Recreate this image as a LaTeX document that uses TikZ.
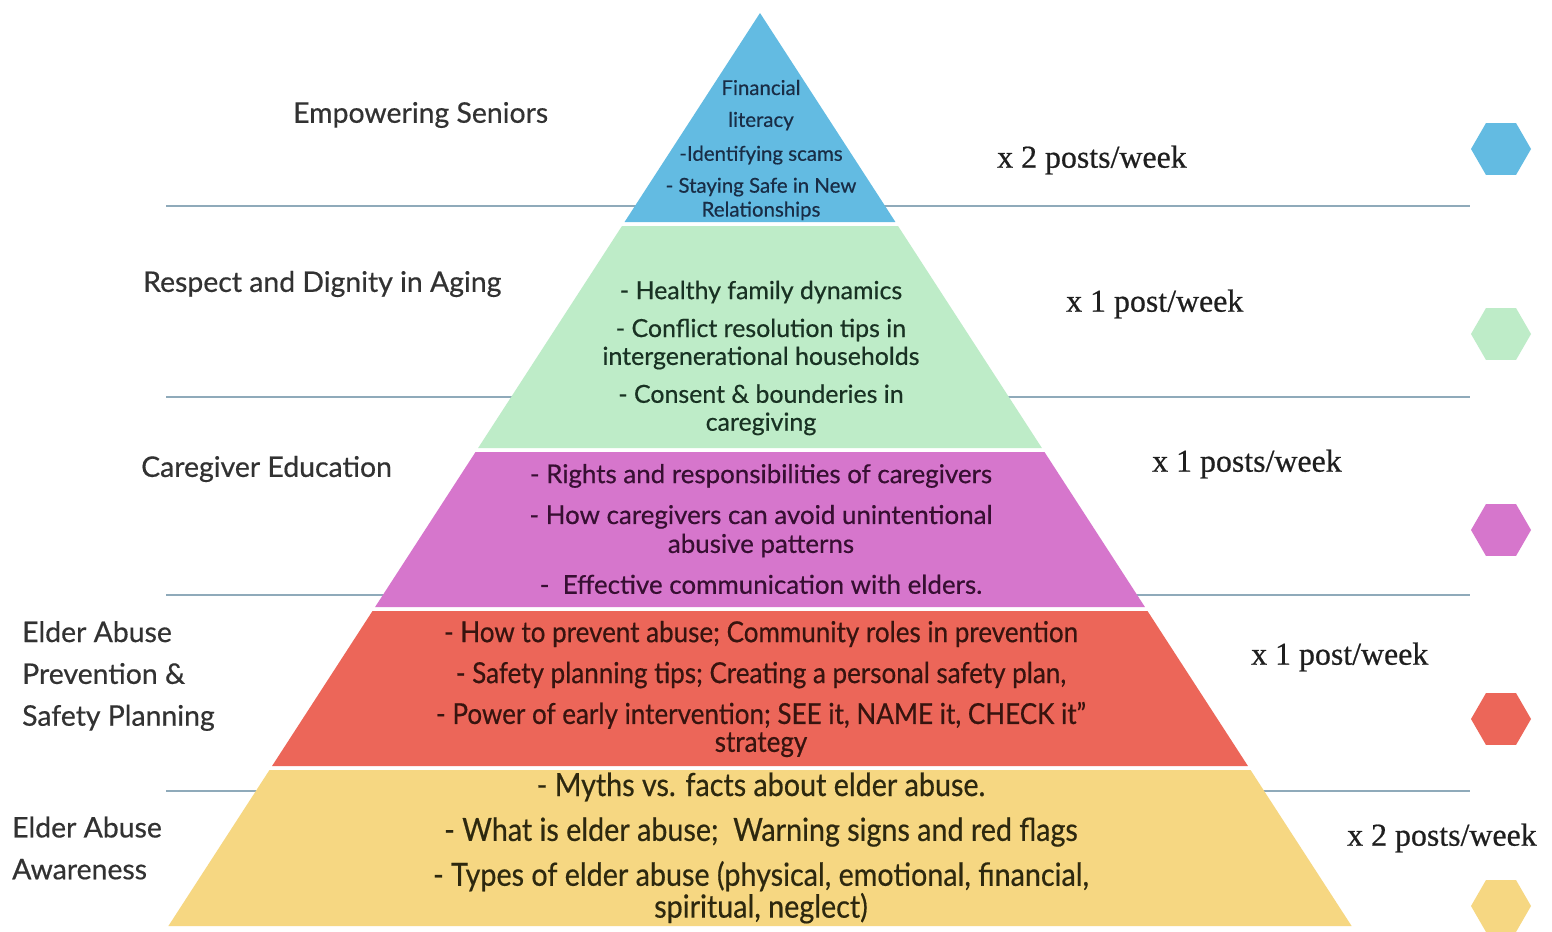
\documentclass[tikz,border=0pt]{standalone}
\usepackage{fontspec}
\setmainfont{Lato}[FakeBold=0.5]
\newfontfamily\postfont{Liberation Serif}[FakeBold=0.6]
\newfontfamily\narrowfont{Lato}[FakeStretch=0.9, FakeBold=0.5]
\usetikzlibrary{shapes.geometric}

\definecolor{seniorblue}{RGB}{99,187,226}
\definecolor{dignitygreen}{RGB}{190,236,200}
\definecolor{caremagenta}{RGB}{214,118,204}
\definecolor{safetyred}{RGB}{236,102,89}
\definecolor{awareyellow}{RGB}{246,215,130}
\definecolor{rulegrey}{RGB}{143,170,186}
\definecolor{labelgrey}{RGB}{50,50,50}
\definecolor{bluetext}{RGB}{25,45,70}
\definecolor{greentext}{RGB}{25,50,35}
\definecolor{magentatext}{RGB}{55,15,50}
\definecolor{redtext}{RGB}{55,20,15}
\definecolor{yellowtext}{RGB}{45,40,15}

\tikzset{
  levellabel/.style={font=\fontsize{28.5}{42}\selectfont, text=labelgrey, inner sep=0pt},
  postlabel/.style={font=\postfont\fontsize{32}{36}\selectfont, text=black!88, anchor=west, inner sep=0pt},
  topiclist/.style={align=center, inner sep=0pt},
  hexmark/.style={regular polygon, regular polygon sides=6, minimum size=60bp, inner sep=0pt, draw=none},
  sepline/.style={draw=rulegrey, line width=2.5bp}
}

\begin{document}
\begin{tikzpicture}[x=1bp, y=-1bp]
  \useasboundingbox (0,0) rectangle (1552,931);
  \clip (0,0) rectangle (1552,931);
  \fill[white] (0,0) rectangle (1552,931);

  % separator lines behind the pyramid
  \foreach \yline in {206,397,595,791}
    \draw[sepline] (166,\yline) -- (1470,\yline);

  % pyramid layers
  \foreach \ytop/\ybot/\col in {13/222/seniorblue, 226/448/dignitygreen, 452/607/caremagenta, 611/766/safetyred, 770/926/awareyellow}
    \fill[\col] ({760-0.648*(\ytop-13)},\ytop) -- ({760+0.648*(\ytop-13)},\ytop)
      -- ({760+0.648*(\ybot-13)},\ybot) -- ({760-0.648*(\ybot-13)},\ybot) -- cycle;

  % topics inside the layers
  \node[topiclist, font=\fontsize{20.5}{24}\selectfont, text=bluetext] (seniortopics) at (761,150)
    {Financial\\[8bp] literacy\\[10bp] -Identifying scams\\[8bp] - Staying Safe in New\\ Relationships};
  \node[topiclist, font=\fontsize{25}{28}\selectfont, text=greentext] (dignitytopics) at (761,358)
    {- Healthy family dynamics\\[10bp] - Conflict resolution tips in\\ intergenerational households\\[10bp]
     - Consent \& bounderies in\\ caregiving};
  \node[topiclist, font=\fontsize{26}{29}\selectfont, text=magentatext] (caretopics) at (761,529)
    {- Rights and responsibilities of caregivers\\[12bp] - How caregivers can avoid unintentional\\ abusive patterns\\[12bp]
     - \ Effective communication with elders.};
  \node[topiclist, font=\narrowfont\fontsize{29}{28}\selectfont, text=redtext] (safetytopics) at (761,689)
    {- How to prevent abuse; Community roles in prevention\\[13bp] - Safety planning tips; Creating a personal safety plan,\\[13bp]
     - Power of early intervention; SEE it, NAME it, CHECK it”\\ strategy};
  \node[topiclist, font=\narrowfont\fontsize{32}{32}\selectfont, text=yellowtext] (awaretopics) at (761,848)
    {- Myths vs. facts about elder abuse.\\[13bp] - What is elder abuse; \ Warning signs and red flags\\[13bp]
     - Types of elder abuse (physical, emotional, financial,\\ spiritual, neglect)};

  % level names on the left
  \node[levellabel, anchor=west] (seniors) at (293,115) {Empowering Seniors};
  \node[levellabel, anchor=west] (dignity) at (143,284) {Respect and Dignity in Aging};
  \node[levellabel, anchor=west] (caregiver) at (141,469) {Caregiver Education};
  \node[levellabel, anchor=west, align=left] (prevention) at (22,676) {Elder Abuse\\ Prevention \&\\ Safety Planning};
  \node[levellabel, anchor=west, align=left] (awareness) at (12,848) {Elder Abuse\\ Awareness};

  % posting frequency on the right
  \node[postlabel] (freqseniors) at (997,160) {x 2 posts/week};
  \node[postlabel] (freqdignity) at (1066,304) {x 1 post/week};
  \node[postlabel] (freqcaregiver) at (1152,464) {x 1 posts/week};
  \node[postlabel] (freqprevention) at (1251,657) {x 1 post/week};
  \node[postlabel] (freqawareness) at (1347,838) {x 2 posts/week};

  % colour keys
  \node[hexmark, fill=seniorblue] (hexseniors) at (1501,149) {};
  \node[hexmark, fill=dignitygreen] (hexdignity) at (1501,334) {};
  \node[hexmark, fill=caremagenta] (hexcaregiver) at (1501,530) {};
  \node[hexmark, fill=safetyred] (hexprevention) at (1501,719) {};
  \node[hexmark, fill=awareyellow] (hexawareness) at (1501,906) {};
\end{tikzpicture}
\end{document}
